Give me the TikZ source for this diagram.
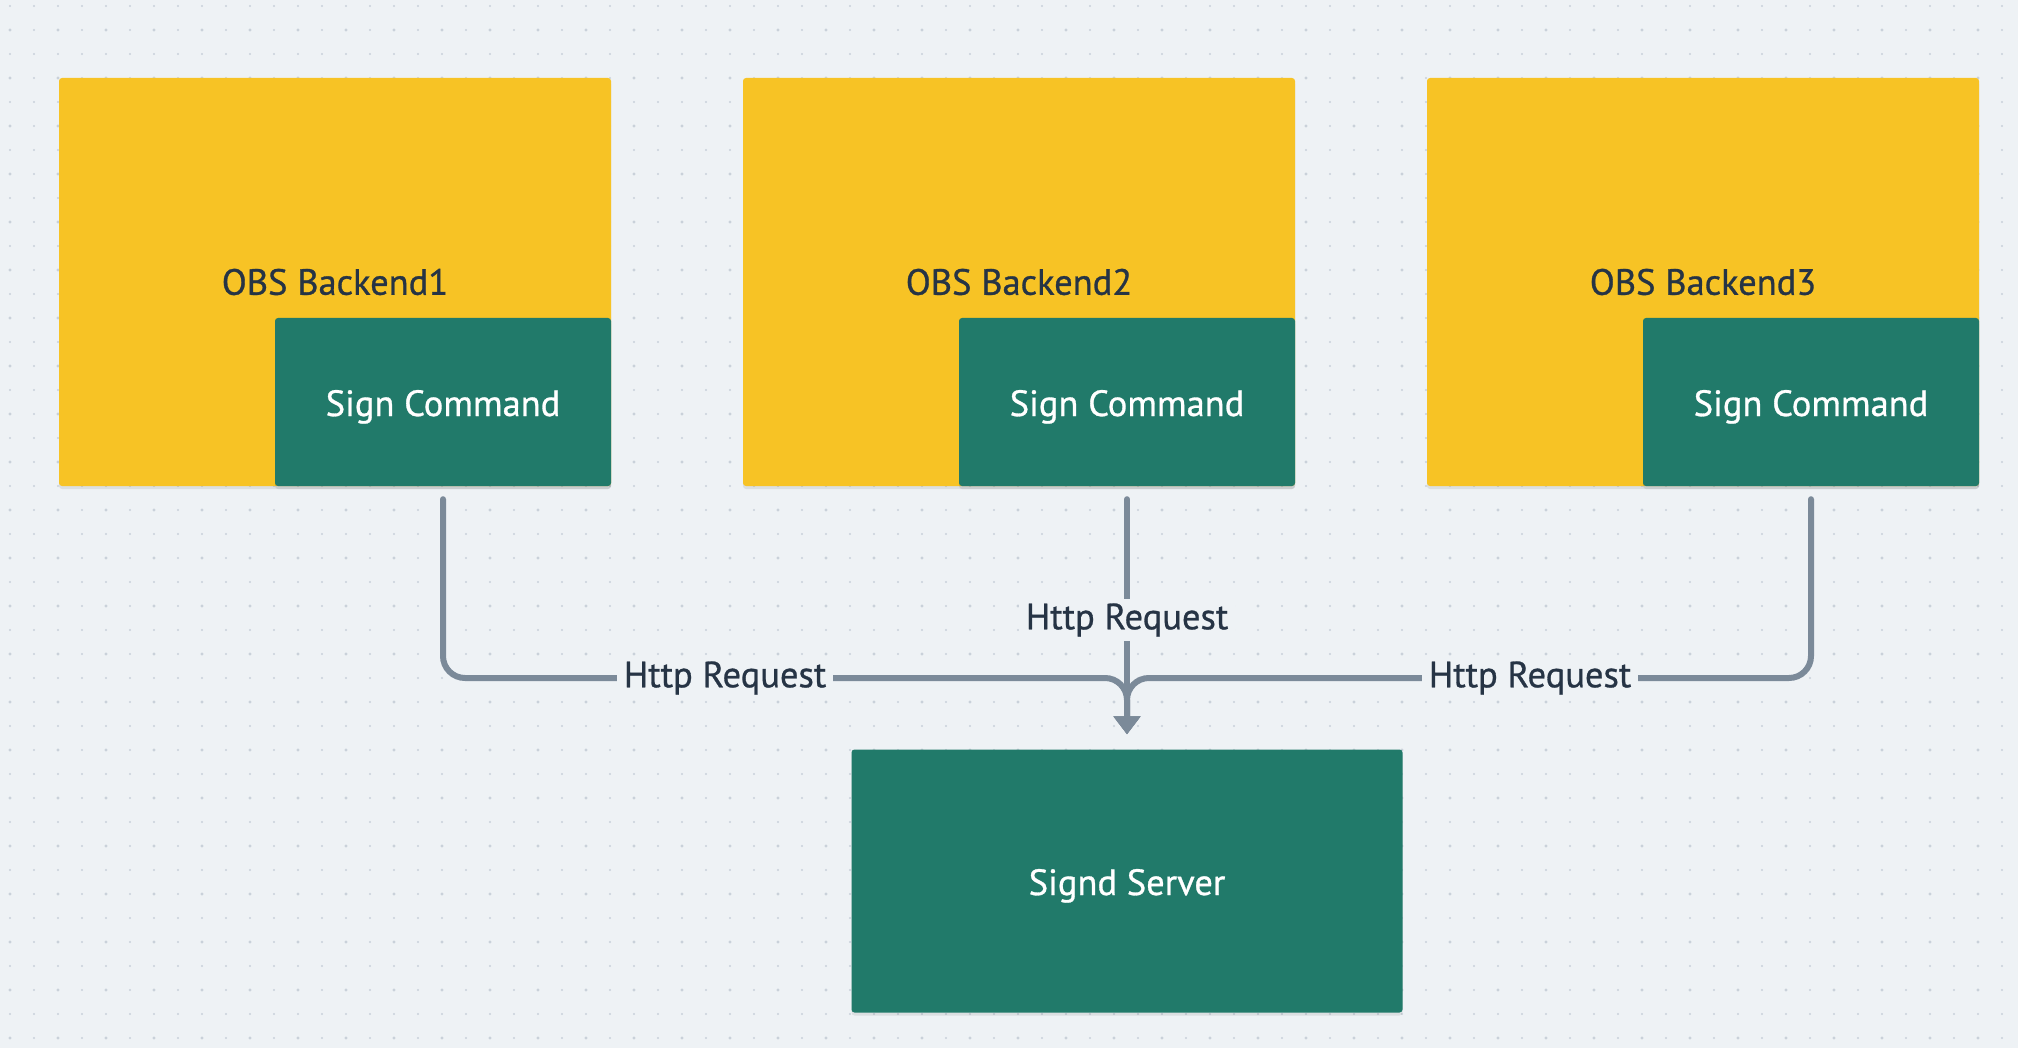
\documentclass[tikz,border=0pt]{standalone}
\usepackage{fontspec}
\setmainfont{PT Sans}[FakeBold=0.8]
\usetikzlibrary{arrows.meta,shadows}
\definecolor{bg}{HTML}{EEF2F5}
\definecolor{dotc}{HTML}{C9D1DA}
\definecolor{ylw}{HTML}{F7C325}
\definecolor{grn}{HTML}{217A6A}
\definecolor{txt}{HTML}{263445}
\definecolor{lne}{HTML}{7B8A99}
\tikzset{
  boxshadow/.style={drop shadow={shadow xshift=0pt,shadow yshift=-3pt,fill=black,opacity=0.08}},
  backendbox/.style={rectangle,rounded corners=3pt,fill=ylw,minimum width=552pt,minimum height=408pt,
     inner sep=0pt,text=txt,font=\fontsize{36.5}{42}\selectfont,boxshadow},
  greenbox/.style={rectangle,rounded corners=3pt,fill=grn,inner sep=0pt,text=white,
     text height=36pt,text depth=8pt,font=\fontsize{36.5}{42}\selectfont,boxshadow},
  conn/.style={draw=lne,line width=6pt,line cap=round,rounded corners=22pt},
  tipconn/.style={conn,-{Triangle[width=26pt,length=18pt]}},
  lbl/.style={fill=bg,text=txt,inner xsep=7pt,inner ysep=4pt,font=\fontsize{36.5}{42}\selectfont}
}
\begin{document}
\begin{tikzpicture}[x=1pt,y=-1pt]
\useasboundingbox (0,0) rectangle (2018,1048);
\fill[bg] (0,0) rectangle (2018,1048);
\foreach \x in {10,34,...,2018} \foreach \y in {6,30,...,1048} \fill[dotc] (\x,\y) circle (1.1);
\foreach \x in {10,58,...,2018} \foreach \y in {30,78,...,1048} \fill[dotc] (\x,\y) circle (1.7);

\node[backendbox] (b1) at (335,282) {OBS Backend1};
\node[backendbox] (b2) at (1019,282) {OBS Backend2};
\node[backendbox] (b3) at (1703,282) {OBS Backend3};

\node[greenbox,minimum width=336pt,minimum height=168pt] (s1) at (443,402) {Sign Command};
\node[greenbox,minimum width=336pt,minimum height=168pt] (s2) at (1127,402) {Sign Command};
\node[greenbox,minimum width=336pt,minimum height=168pt] (s3) at (1811,402) {Sign Command};

\node[greenbox,minimum width=551pt,minimum height=263pt] (srv) at (1127,881) {Signd Server};

\coordinate (tip) at ([yshift=15pt]srv.north);
\coordinate (m1) at ([yshift=-13pt]s1.south);
\coordinate (m2) at ([yshift=-13pt]s2.south);
\coordinate (m3) at ([yshift=-13pt]s3.south);

\draw[tipconn] (m1) -- (m1 |- 0,678) -- (tip |- 0,678) -- (tip);
\draw[tipconn] (m3) -- (m3 |- 0,678) -- (tip |- 0,678) -- (tip);
\draw[tipconn] (m2) -- (tip);

\node[lbl] (l1) at (725,678) {Http Request};
\node[lbl] (l2) at (1127,620) {Http Request};
\node[lbl] (l3) at (1530,678) {Http Request};
\end{tikzpicture}
\end{document}
